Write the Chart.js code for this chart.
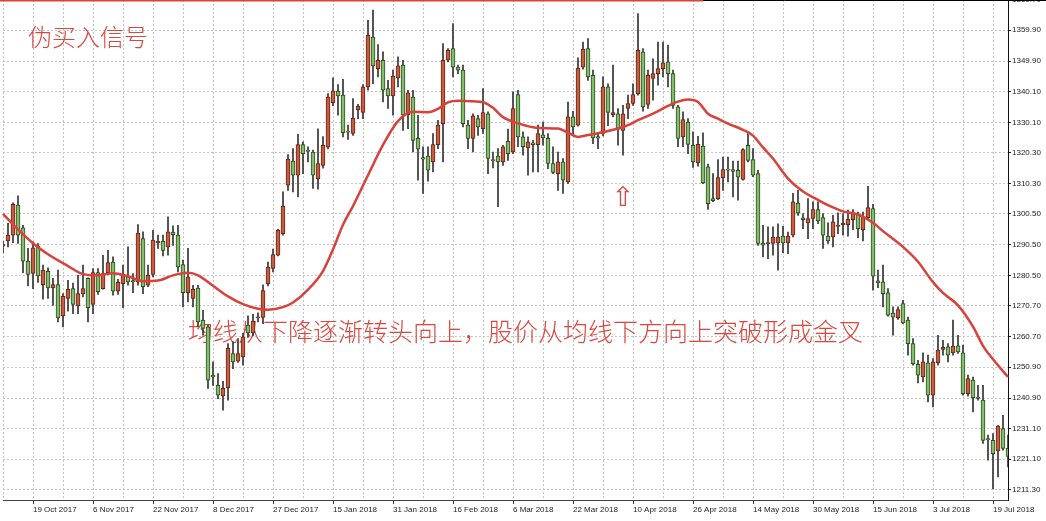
<!DOCTYPE html>
<html>
<head>
<meta charset="utf-8">
<script src="https://cdn.jsdelivr.net/npm/chart.js@4.4.0/dist/chart.umd.min.js"></script>
<style>
  html, body { margin: 0; padding: 0; background: #fff; }
  #wrap { width: 1046px; height: 521px; }
</style>
</head>
<body>
<div id="wrap"><canvas id="chart" width="1046" height="521"></canvas></div>
<script>
// ---------------- DATA ----------------
const tradingDays = [
    ["Oct 2017", [11, 12, 13, 16, 17, 18, 19, 20, 23, 24, 25, 26, 27, 30, 31]],
    ["Nov 2017", [1, 2, 3, 6, 7, 8, 9, 10, 13, 14, 15, 16, 17, 20, 21, 22, 23, 24, 27, 28, 29, 30]],
    ["Dec 2017", [1, 4, 5, 6, 7, 8, 11, 12, 13, 14, 15, 18, 19, 20, 21, 22, 26, 27, 28, 29]],
    ["Jan 2018", [2, 3, 4, 5, 8, 9, 10, 11, 12, 15, 16, 17, 18, 19, 22, 23, 24, 25, 26, 29, 30, 31]],
    ["Feb 2018", [1, 2, 5, 6, 7, 8, 9, 12, 13, 14, 15, 16, 19, 20, 21, 22, 23, 26, 27, 28]],
    ["Mar 2018", [1, 2, 5, 6, 7, 8, 9, 12, 13, 14, 15, 16, 19, 20, 21, 22, 23, 26, 27, 28, 29]],
    ["Apr 2018", [2, 3, 4, 5, 6, 9, 10, 11, 12, 13, 16, 17, 18, 19, 20, 23, 24, 25, 26, 27, 30]],
    ["May 2018", [1, 2, 3, 4, 7, 8, 9, 10, 11, 14, 15, 16, 17, 18, 21, 22, 23, 24, 25, 28, 29, 30, 31]],
    ["Jun 2018", [1, 4, 5, 6, 7, 8, 11, 12, 13, 14, 15, 18, 19, 20, 21, 22, 25, 26, 27, 28, 29]],
    ["Jul 2018", [2, 3, 4, 5, 6, 9, 10, 11, 12, 13, 16, 17, 18, 19, 20, 23, 24]]
];

const opens = [
    1290.0, 1291.7, 1293.6, 1303.3, 1296.0, 1285.2, 1281.2, 1290.0, 1277.6, 1281.9,
    1276.5, 1277.6, 1267.5, 1273.1, 1276.3, 1270.7, 1274.6, 1279.6, 1271.2, 1281.5,
    1276.3, 1281.5, 1284.9, 1275.5, 1277.9, 1280.1, 1278.9, 1278.5, 1292.5, 1277.4,
    1280.9, 1291.2, 1291.6, 1289.8, 1294.6, 1293.6, 1284.1, 1275.0, 1273.1, 1276.5,
    1266.1, 1263.9, 1248.3, 1245.0, 1241.6, 1244.2, 1255.3, 1252.8, 1254.2, 1264.5,
    1262.0, 1266.8, 1267.0, 1277.9, 1282.8, 1287.1, 1294.1, 1309.8, 1317.6, 1313.0,
    1322.9, 1321.1, 1320.5, 1311.9, 1316.2, 1322.1, 1336.5, 1340.2, 1338.9, 1327.3,
    1326.5, 1334.2, 1333.3, 1341.6, 1357.7, 1347.5, 1350.2, 1341.0, 1338.7, 1344.5,
    1348.6, 1332.6, 1338.3, 1324.9, 1318.7, 1319.2, 1317.3, 1322.9, 1329.7, 1350.2,
    1354.0, 1348.0, 1347.0, 1329.2, 1324.9, 1331.3, 1328.1, 1332.9, 1318.1, 1319.2,
    1317.3, 1324.0, 1320.5, 1339.1, 1325.4, 1321.8, 1323.5, 1322.9, 1326.1, 1324.9,
    1316.8, 1313.5, 1317.3, 1310.8, 1331.9, 1329.2, 1348.0, 1354.0, 1345.3, 1325.5,
    1326.5, 1341.6, 1332.6, 1332.9, 1327.5, 1334.6, 1336.2, 1339.4, 1352.9, 1335.9,
    1344.3, 1345.9, 1347.5, 1349.7, 1345.9, 1335.1, 1325.4, 1330.2, 1322.7, 1317.0,
    1322.4, 1315.7, 1305.4, 1305.4, 1312.2, 1315.0, 1314.8, 1314.6, 1311.6, 1322.7,
    1318.1, 1313.5, 1291.0, 1290.8, 1290.9, 1291.1, 1293.3, 1291.1, 1293.6, 1304.0,
    1299.2, 1297.6, 1299.0, 1301.9, 1299.3, 1293.3, 1293.0, 1296.4, 1297.0, 1297.0,
    1298.6, 1300.4, 1295.4, 1299.3, 1302.2, 1278.8, 1278.5, 1274.9, 1268.4, 1266.9,
    1271.5, 1266.1, 1258.5, 1251.8, 1247.7, 1252.3, 1241.8, 1252.3, 1256.6, 1257.5,
    1255.5, 1257.8, 1255.5, 1242.3, 1246.7, 1241.2, 1240.2, 1227.8, 1227.2, 1223.8,
    1231.0, 1224.6
];

const highs = [
    1291.6, 1297.4, 1304.1, 1306.3, 1296.8, 1289.3, 1291.4, 1290.9, 1283.9, 1283.0,
    1279.6, 1282.3, 1274.7, 1279.0, 1278.1, 1280.6, 1283.9, 1279.8, 1282.8, 1282.8,
    1287.1, 1288.7, 1286.6, 1279.3, 1283.9, 1289.8, 1281.2, 1297.0, 1294.7, 1283.9,
    1295.2, 1293.6, 1293.6, 1299.5, 1296.6, 1296.8, 1285.5, 1289.3, 1277.4, 1277.4,
    1269.3, 1264.5, 1252.6, 1248.8, 1246.3, 1258.5, 1259.1, 1260.1, 1261.8, 1267.5,
    1268.0, 1268.5, 1277.5, 1284.9, 1289.1, 1295.5, 1307.6, 1319.7, 1321.6, 1326.2,
    1323.8, 1322.2, 1321.1, 1328.0, 1325.5, 1339.4, 1344.5, 1342.3, 1344.0, 1329.2,
    1337.8, 1335.9, 1342.3, 1363.1, 1366.4, 1355.3, 1352.9, 1343.7, 1347.0, 1351.3,
    1350.2, 1340.5, 1340.5, 1332.4, 1322.2, 1322.2, 1326.5, 1330.8, 1355.6, 1354.0,
    1362.1, 1348.6, 1348.6, 1330.8, 1332.9, 1332.4, 1341.0, 1333.5, 1320.5, 1321.6,
    1322.7, 1327.9, 1340.0, 1340.5, 1327.0, 1325.4, 1324.3, 1329.2, 1330.2, 1326.5,
    1322.2, 1320.5, 1318.4, 1336.7, 1333.7, 1351.0, 1356.1, 1357.2, 1347.0, 1326.5,
    1344.8, 1342.6, 1348.6, 1334.6, 1335.6, 1338.9, 1342.6, 1365.3, 1354.0, 1347.0,
    1350.7, 1356.1, 1356.1, 1355.1, 1347.0, 1335.6, 1333.5, 1331.3, 1327.0, 1325.6,
    1326.7, 1316.6, 1313.5, 1318.1, 1318.9, 1318.9, 1317.6, 1317.6, 1321.6, 1326.5,
    1321.6, 1314.6, 1296.8, 1296.3, 1296.3, 1297.3, 1296.5, 1294.6, 1307.1, 1308.1,
    1300.6, 1305.4, 1304.4, 1304.4, 1300.6, 1297.6, 1300.0, 1300.8, 1300.6, 1301.7,
    1301.9, 1301.1, 1301.1, 1309.4, 1303.6, 1282.3, 1283.9, 1276.3, 1270.4, 1270.4,
    1272.5, 1267.1, 1260.1, 1253.1, 1255.5, 1254.8, 1253.7, 1261.2, 1259.6, 1258.5,
    1266.1, 1261.2, 1258.0, 1248.3, 1247.7, 1245.0, 1245.0, 1228.9, 1229.4, 1232.1,
    1235.3, 1228.9
];

const lows = [
    1287.9, 1289.8, 1291.2, 1290.9, 1281.5, 1277.2, 1276.3, 1278.3, 1272.9, 1273.1,
    1270.9, 1265.5, 1263.9, 1269.0, 1268.2, 1268.2, 1273.6, 1265.5, 1268.2, 1274.4,
    1276.1, 1281.2, 1274.2, 1274.4, 1270.1, 1277.4, 1275.0, 1277.4, 1274.7, 1276.9,
    1280.1, 1289.3, 1286.9, 1287.1, 1290.3, 1281.7, 1270.4, 1272.0, 1270.4, 1263.9,
    1261.2, 1244.0, 1245.0, 1240.7, 1237.0, 1240.2, 1250.4, 1252.4, 1251.5, 1260.5,
    1261.0, 1265.5, 1265.0, 1277.2, 1281.7, 1286.9, 1293.6, 1308.1, 1307.6, 1306.0,
    1313.5, 1317.3, 1308.7, 1308.5, 1315.3, 1321.5, 1335.5, 1332.4, 1325.4, 1324.6,
    1325.9, 1331.3, 1331.3, 1340.5, 1342.6, 1344.8, 1336.7, 1334.6, 1332.4, 1341.6,
    1327.5, 1328.1, 1320.5, 1311.4, 1307.1, 1311.1, 1314.1, 1321.6, 1317.3, 1349.7,
    1344.8, 1345.9, 1328.6, 1321.6, 1320.5, 1325.9, 1326.5, 1313.5, 1315.4, 1302.8,
    1316.2, 1317.8, 1320.0, 1322.2, 1319.5, 1313.0, 1314.1, 1314.1, 1322.7, 1315.1,
    1313.5, 1308.1, 1307.1, 1310.3, 1325.9, 1328.9, 1347.3, 1343.7, 1323.2, 1321.6,
    1325.7, 1329.0, 1331.9, 1322.7, 1319.5, 1331.3, 1335.6, 1338.9, 1333.7, 1334.6,
    1337.3, 1342.1, 1344.8, 1341.6, 1334.6, 1322.2, 1322.2, 1320.0, 1315.5, 1315.9,
    1310.3, 1301.9, 1304.4, 1305.1, 1308.1, 1310.8, 1306.0, 1304.9, 1311.4, 1317.3,
    1312.5, 1290.3, 1286.6, 1286.0, 1287.1, 1282.3, 1287.9, 1287.6, 1293.0, 1300.0,
    1295.7, 1292.5, 1295.7, 1297.3, 1289.3, 1290.9, 1289.8, 1294.1, 1293.6, 1293.3,
    1295.4, 1292.8, 1291.7, 1299.0, 1275.8, 1276.6, 1270.4, 1267.4, 1261.2, 1266.3,
    1265.0, 1254.8, 1251.5, 1245.8, 1246.1, 1239.6, 1238.0, 1251.5, 1254.8, 1252.6,
    1254.8, 1255.3, 1241.8, 1241.5, 1236.4, 1240.2, 1226.2, 1220.8, 1211.6, 1215.4,
    1224.0, 1218.6
];

const closes = [
    1290.6, 1293.6, 1303.6, 1293.6, 1285.2, 1280.9, 1289.5, 1280.4, 1282.3, 1276.5,
    1277.6, 1266.8, 1273.8, 1276.1, 1271.2, 1274.7, 1276.3, 1270.1, 1281.5, 1275.3,
    1281.2, 1284.7, 1275.5, 1278.3, 1280.9, 1278.5, 1278.5, 1294.3, 1276.9, 1280.6,
    1292.0, 1291.6, 1288.7, 1294.7, 1293.8, 1283.3, 1275.0, 1280.1, 1276.1, 1265.5,
    1263.4, 1246.7, 1247.7, 1241.8, 1244.0, 1257.0, 1252.6, 1255.3, 1260.7, 1262.0,
    1265.8, 1267.2, 1275.7, 1283.3, 1287.3, 1295.2, 1303.0, 1318.2, 1313.0, 1322.9,
    1320.0, 1320.7, 1313.0, 1316.8, 1322.7, 1338.3, 1340.3, 1338.7, 1326.8, 1326.9,
    1331.5, 1335.3, 1341.6, 1358.3, 1348.4, 1350.2, 1340.5, 1338.7, 1345.1, 1348.4,
    1332.4, 1339.7, 1324.3, 1321.4, 1318.2, 1314.6, 1322.9, 1329.2, 1350.2, 1353.4,
    1348.0, 1347.0, 1329.7, 1324.9, 1332.2, 1328.6, 1333.3, 1318.4, 1317.7, 1317.3,
    1322.2, 1320.0, 1334.6, 1325.4, 1322.2, 1323.8, 1322.9, 1326.5, 1325.1, 1316.8,
    1313.9, 1317.3, 1311.4, 1331.9, 1328.6, 1347.7, 1353.8, 1344.8, 1325.1, 1325.0,
    1341.6, 1333.3, 1333.3, 1327.9, 1332.9, 1336.2, 1339.1, 1353.4, 1335.1, 1345.3,
    1345.9, 1347.5, 1349.4, 1345.9, 1335.6, 1324.9, 1331.0, 1323.0, 1317.3, 1323.0,
    1310.5, 1303.8, 1304.8, 1312.2, 1314.8, 1314.6, 1314.2, 1312.4, 1321.3, 1317.8,
    1313.0, 1290.9, 1290.4, 1291.2, 1293.0, 1293.0, 1291.1, 1293.3, 1304.4, 1300.8,
    1298.6, 1299.0, 1301.9, 1298.2, 1293.6, 1291.7, 1297.9, 1296.8, 1297.4, 1298.8,
    1300.6, 1295.7, 1299.5, 1302.5, 1280.3, 1278.2, 1274.7, 1267.7, 1267.1, 1269.5,
    1265.2, 1258.5, 1252.0, 1248.3, 1252.6, 1241.8, 1252.6, 1256.4, 1257.3, 1254.8,
    1257.7, 1255.8, 1242.3, 1247.2, 1241.0, 1240.8, 1227.2, 1227.4, 1222.9, 1231.8,
    1224.6, 1222.0
];

// moving average
const maDates = [
    "11 Oct 2017", "16 Oct 2017", "19 Oct 2017", "24 Oct 2017", "30 Oct 2017",
    "2 Nov 2017", "7 Nov 2017", "10 Nov 2017", "15 Nov 2017", "20 Nov 2017",
    "23 Nov 2017", "28 Nov 2017", "1 Dec 2017", "5 Dec 2017", "8 Dec 2017",
    "13 Dec 2017", "18 Dec 2017", "21 Dec 2017", "26 Dec 2017", "29 Dec 2017",
    "3 Jan 2018", "8 Jan 2018", "11 Jan 2018", "15 Jan 2018", "17 Jan 2018",
    "19 Jan 2018", "24 Jan 2018", "29 Jan 2018", "1 Feb 2018", "6 Feb 2018",
    "9 Feb 2018", "13 Feb 2018", "15 Feb 2018", "19 Feb 2018", "22 Feb 2018",
    "26 Feb 2018", "28 Feb 2018", "2 Mar 2018", "7 Mar 2018", "13 Mar 2018",
    "19 Mar 2018", "21 Mar 2018", "23 Mar 2018", "27 Mar 2018", "2 Apr 2018",
    "5 Apr 2018", "9 Apr 2018", "11 Apr 2018", "16 Apr 2018", "19 Apr 2018",
    "23 Apr 2018", "25 Apr 2018", "27 Apr 2018", "1 May 2018", "3 May 2018",
    "7 May 2018", "10 May 2018", "14 May 2018", "16 May 2018", "18 May 2018",
    "23 May 2018", "28 May 2018", "31 May 2018", "4 Jun 2018", "7 Jun 2018",
    "12 Jun 2018", "15 Jun 2018", "19 Jun 2018", "25 Jun 2018", "28 Jun 2018",
    "3 Jul 2018", "5 Jul 2018", "10 Jul 2018", "13 Jul 2018", "17 Jul 2018",
    "20 Jul 2018", "24 Jul 2018"
];
const maValues = [
    1300.5, 1295.5, 1291.0, 1287.4, 1283.6,
    1281.0, 1280.6, 1281.3, 1280.3, 1278.7,
    1278.9, 1280.6, 1281.4, 1280.6, 1277.2,
    1273.8, 1271.3, 1269.8, 1269.5, 1270.3,
    1271.8, 1276.0, 1282.0, 1289.0, 1297.0,
    1303.0, 1313.0, 1322.8, 1330.5, 1333.5,
    1333.4, 1334.5, 1336.6, 1337.1, 1336.9,
    1336.6, 1334.8, 1331.8, 1329.8, 1328.3,
    1328.1, 1326.8, 1325.4, 1326.0, 1326.9,
    1328.1, 1329.2, 1330.8, 1332.9, 1335.4,
    1336.8, 1337.5, 1336.7, 1332.9, 1331.3,
    1329.7, 1327.7, 1325.8, 1322.0, 1318.4,
    1311.9, 1307.7, 1305.0, 1303.3, 1301.3,
    1300.3, 1297.6, 1294.9, 1289.8, 1285.0,
    1278.4, 1274.9, 1270.9, 1264.0, 1257.8,
    1251.5, 1247.7
];

const xTickLabels = [
    "19 Oct 2017", "6 Nov 2017", "22 Nov 2017", "8 Dec 2017", "27 Dec 2017",
    "15 Jan 2018", "31 Jan 2018", "16 Feb 2018", "6 Mar 2018", "22 Mar 2018",
    "10 Apr 2018", "26 Apr 2018", "14 May 2018", "30 May 2018", "15 Jun 2018",
    "3 Jul 2018", "19 Jul 2018"
];
const yTickLabels = [
    "1211.30", "1221.10", "1231.10", "1240.90", "1250.90", "1260.70", "1270.70",
    "1280.50", "1290.50", "1300.50", "1310.30", "1320.30", "1330.10", "1340.10",
    "1349.90", "1359.90", "1369.70"
];

// chart notes: text, anchor date, anchor price
const noteTexts = ["伪买入信号", "均线从下降逐渐转头向上，股价从均线下方向上突破形成金叉", "⇧"];
const noteDates = ["18 Oct 2017", "1 Dec 2017", "6 Apr 2018"];
const notePrices = [1357.7, 1262.3, 1305.3];

// ---------------- STYLE ----------------
const upFill = "#cd5a3a", upEdge = "#5b2a1c";
const downFill = "#82bf66", downEdge = "#2e4a26";
const wickColor = "#333333";
const maColor = "#d9413a";
const noteColor = "#d9473e";
const gridColor = "#c4c4c4";
const axisFont = { family: "'Liberation Sans', Arial, sans-serif", size: 8 };
const noteFonts = ["300 24px 'Noto Sans CJK SC'", "300 25px 'Noto Sans CJK SC'", "27px 'DejaVu Sans'"];
const noteAlign = ["left", "left", "center"];

// ---------------- BUILD ----------------
const dates = [];
tradingDays.forEach(([month, days]) => days.forEach(d => dates.push(d + " " + month)));

const isUp = opens.map((o, i) => closes[i] >= o);

const notesPlugin = {
    id: "notes",
    beforeDatasetsDraw(chart) {
        const { ctx, scales: { x, y } } = chart;
        ctx.save();
        ctx.fillStyle = noteColor;
        ctx.textBaseline = "middle";
        noteTexts.forEach((t, i) => {
            ctx.font = noteFonts[i];
            ctx.textAlign = noteAlign[i];
            ctx.fillText(t, x.getPixelForValue(dates.indexOf(noteDates[i])), y.getPixelForValue(notePrices[i]));
        });
        ctx.restore();
    },
    afterDraw(chart) {
        const { ctx, chartArea, scales: { x } } = chart;
        ctx.save();
        ctx.strokeStyle = "#000";
        ctx.lineWidth = 1;
        ctx.beginPath();
        ctx.moveTo(0, chartArea.top + 0.5);
        ctx.lineTo(chart.width, chartArea.top + 0.5);
        ctx.stroke();
        ctx.strokeStyle = maColor;
        ctx.lineWidth = 1.5;
        ctx.beginPath();
        ctx.moveTo(0, chartArea.top + 0.75);
        ctx.lineTo(x.getPixelForValue(dates.indexOf("30 Apr 2018")), chartArea.top + 0.75);
        ctx.stroke();
        ctx.restore();
    }
};

const ctx = document.getElementById("chart").getContext("2d");

new Chart(ctx, {
    type: "bar",
    data: {
        labels: dates,
        datasets: [
            {
                type: "line",
                label: "MA",
                data: maDates.map((d, i) => ({ x: d, y: maValues[i] })),
                borderColor: maColor,
                borderWidth: 2.5,
                pointRadius: 0,
                cubicInterpolationMode: "monotone",
                order: 0
            },
            {
                label: "body",
                data: opens.map((o, i) => [o, closes[i]]),
                backgroundColor: isUp.map(u => u ? upFill : downFill),
                borderColor: isUp.map(u => u ? upEdge : downEdge),
                borderWidth: 1,
                borderSkipped: false,
                barThickness: 4,
                grouped: false,
                order: 1
            },
            {
                label: "wick",
                data: lows.map((l, i) => [l, highs[i]]),
                backgroundColor: wickColor,
                barThickness: 1,
                grouped: false,
                order: 2
            }
        ]
    },
    options: {
        responsive: false,
        devicePixelRatio: 1,
        animation: false,
        events: [],
        layout: { padding: { left: 3, right: 0, top: 0, bottom: 0 } },
        plugins: {
            legend: { display: false },
            tooltip: { enabled: false }
        },
        scales: {
            x: {
                type: "category",
                offset: false,
                ticks: {
                    autoSkip: false,
                    maxRotation: 0,
                    minRotation: 0,
                    align: "start",
                    padding: 1,
                    color: "#222",
                    font: axisFont,
                    callback: function (v) {
                        const l = this.getLabelForValue(v);
                        return xTickLabels.includes(l) ? l : "";
                    }
                },
                grid: {
                    offset: false,
                    color: c => (c.index % 6 === 0 ? gridColor : "transparent"),
                    tickLength: 4,
                    tickColor: c => (xTickLabels.includes(dates[c.index]) ? "#333" : "transparent")
                },
                border: { display: true, color: "#444", dash: [2, 2] },
                afterFit: s => { s.height = 21; s.paddingLeft = 0; s.paddingRight = 0; }
            },
            y: {
                position: "right",
                min: 1207.9,
                max: 1369.7,
                afterBuildTicks: s => { s.ticks = yTickLabels.map(l => ({ value: parseFloat(l) })); },
                ticks: {
                    padding: 1,
                    color: "#222",
                    font: axisFont,
                    callback: (v, i) => yTickLabels[i]
                },
                grid: { color: gridColor, tickLength: 3, tickColor: "#222" },
                border: { display: true, color: "#111", dash: [2, 2] },
                afterFit: s => { s.width = 38; s.paddingTop = 0; s.paddingBottom = 0; }
            }
        }
    },
    plugins: [notesPlugin]
});
</script>
</body>
</html>
